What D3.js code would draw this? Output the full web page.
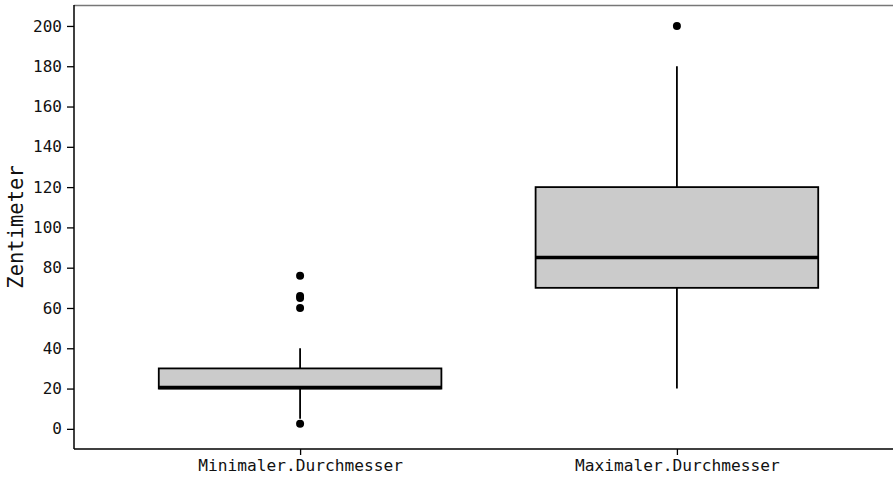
<!DOCTYPE html>
<html>
<head>
<meta charset="utf-8">
<script src="https://cdn.jsdelivr.net/npm/d3@7"></script>
<style>
  body { margin: 0; background: #fff; }
  svg text { font-family: "DejaVu Sans Mono", monospace; fill: #111; }
</style>
</head>
<body>
<div id="chart"></div>
<script>
// Kategorien und Boxplot-Kennwerte
const categories = ['Minimaler.Durchmesser', 'Maximaler.Durchmesser'];
const lowerWhisker = [5, 20];
const q1 = [20, 70];
const median = [20.5, 85];
const q3 = [30, 120];
const upperWhisker = [40, 180];
const outliers = [
    [2.5, 60, 65, 66, 76],
    [200]
];
const yTicks = [0, 20, 40, 60, 80, 100, 120, 140, 160, 180, 200];

const width = 893, height = 479;
const margin = { top: 5, right: -10, bottom: 30, left: 74 };

const svg = d3.select('#chart')
    .append('svg')
    .attr('width', width)
    .attr('height', height);

const y = d3.scaleLinear()
    .domain([-10, 210.4])
    .range([height - margin.bottom, margin.top]);

const x = d3.scalePoint()
    .domain(categories)
    .range([margin.left, width - margin.right])
    .padding(0.6);

const boxW = x.step() * 0.75;

// Boxen zeichnen
const boxes = svg.selectAll('.box')
    .data(categories)
    .enter()
    .append('g')
    .attr('class', 'box');

// Whisker
boxes.append('line')
    .attr('x1', d => x(d)).attr('x2', d => x(d))
    .attr('y1', (d, i) => y(upperWhisker[i]))
    .attr('y2', (d, i) => y(q3[i]))
    .attr('stroke', '#000').attr('stroke-width', 1.8);
boxes.append('line')
    .attr('x1', d => x(d)).attr('x2', d => x(d))
    .attr('y1', (d, i) => y(q1[i]))
    .attr('y2', (d, i) => y(lowerWhisker[i]))
    .attr('stroke', '#000').attr('stroke-width', 1.8);

boxes.append('rect')
    .attr('x', d => x(d) - boxW / 2)
    .attr('width', boxW)
    .attr('y', (d, i) => y(q3[i]))
    .attr('height', (d, i) => y(q1[i]) - y(q3[i]))
    .attr('fill', '#cbcbcb')
    .attr('stroke', '#000')
    .attr('stroke-width', 1.8);

// Median
boxes.append('line')
    .attr('x1', d => x(d) - boxW / 2).attr('x2', d => x(d) + boxW / 2)
    .attr('y1', (d, i) => y(median[i]))
    .attr('y2', (d, i) => y(median[i]))
    .attr('stroke', '#000').attr('stroke-width', 3.5);

// Ausreißer
categories.forEach((c, i) => {
    svg.selectAll('.out' + i)
        .data(outliers[i])
        .enter()
        .append('circle')
        .attr('cx', x(c))
        .attr('cy', d => y(d))
        .attr('r', 4)
        .attr('fill', '#000');
});

// Rahmen oben
svg.append('line')
    .attr('x1', margin.left).attr('x2', width)
    .attr('y1', margin.top + 0.5).attr('y2', margin.top + 0.5)
    .attr('stroke', '#777').attr('stroke-width', 1.5);

// Y-Achse
const yAxis = svg.append('g')
    .attr('transform', `translate(${margin.left},0)`)
    .call(d3.axisLeft(y).tickValues(yTicks).tickSize(7).tickPadding(5));
yAxis.select('.domain').attr('stroke-width', 1.5).attr('d', `M0,${margin.top}V${height - margin.bottom}`);
yAxis.selectAll('.tick line').attr('stroke-width', 1.3);
yAxis.selectAll('text').style('font-size', '16px');

// X-Achse
const xAxis = svg.append('g')
    .attr('transform', `translate(0,${height - margin.bottom})`)
    .call(d3.axisBottom(x).tickSize(6).tickPadding(4));
xAxis.select('.domain').attr('stroke-width', 1.5).attr('d', `M${margin.left},0H${width}`);
xAxis.selectAll('.tick line').attr('stroke-width', 1.3);
xAxis.selectAll('text').style('font-size', '16.2px');

// Achsentitel
svg.append('text')
    .attr('transform', `translate(23,${(margin.top + height - margin.bottom) / 2}) rotate(-90)`)
    .attr('text-anchor', 'middle')
    .style('font-size', '20.5px')
    .text('Zentimeter');
</script>
</body>
</html>
